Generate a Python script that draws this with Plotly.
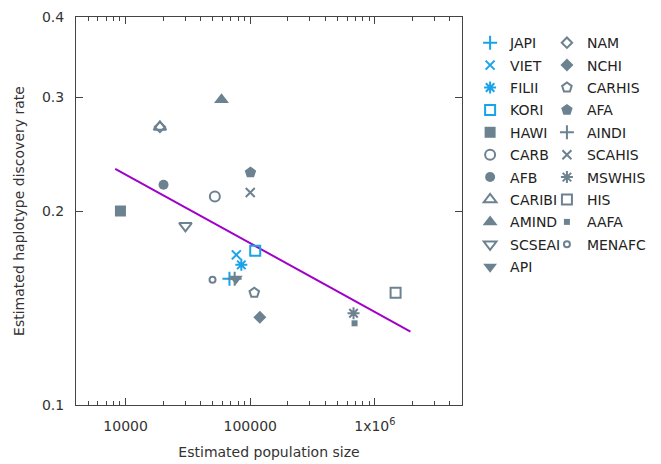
import plotly.graph_objects as go

BLUE = "#1aa3e8"
GRAY = "#6c8291"

names = ["JAPI", "VIET", "FILII", "KORI", "HAWI", "CARB", "AFB", "CARIBI", "AMIND", "SCSEAI", "API",
         "NAM", "NCHI", "CARHIS", "AFA", "AINDI", "SCAHIS", "MSWHIS", "HIS", "AAFA", "MENAFC"]
pop_size = [68100, 77300, 84800, 109600, 9090, 52000, 20150, 18850, 58800, 30200, 76600,
            18850, 119400, 107700, 100400, 75000, 100000, 674000, 1466000, 687000, 49800]
disc_rate = [0.157, 0.171, 0.165, 0.1735, 0.200, 0.2107, 0.2196, 0.270, 0.2975, 0.1897, 0.157,
             0.270, 0.1368, 0.1494, 0.2295, 0.157, 0.2137, 0.1388, 0.1494, 0.1339, 0.1564]
symbols = ["cross-thin", "x-thin", "asterisk", "square-open", "square", "circle-open", "circle",
           "triangle-up-open", "triangle-up", "triangle-down-open", "triangle-down",
           "diamond-open", "diamond", "pentagon-open", "pentagon", "cross-thin", "x-thin",
           "asterisk", "square-open", "square", "circle-open"]
colors = [BLUE] * 4 + [GRAY] * 17
sizes = [10, 9, 10, 10, 11, 10, 10, 11, 13, 11, 12,
         8, 10, 10, 12, 10, 9, 10, 10, 6, 6]

fit_x = [8250, 1930000]
fit_y = [0.2325, 0.130]

x_major = [10000, 100000, 1000000]
x_labels = ["10000", "100000", "1x10<sup>6</sup>"]
x_minor = [m * 10 ** e for e in range(3, 7) for m in range(2, 10)]
y_ticks = [0.1, 0.2, 0.3, 0.4]

fig = go.Figure()
fig.add_trace(go.Scatter(x=fit_x, y=fit_y, mode="lines", line=dict(color="#a000c8", width=2),
                         showlegend=False, hoverinfo="skip"))
for i, n in enumerate(names):
    thin = symbols[i] in ("cross-thin", "x-thin", "asterisk") or symbols[i].endswith("-open")
    fig.add_trace(go.Scatter(
        x=[pop_size[i]], y=[disc_rate[i]], mode="markers", name=n,
        legend="legend" if i < 11 else "legend2",
        legendgroup=n,
        marker=dict(symbol=symbols[i], size=sizes[i], color=colors[i],
                    line=dict(color=colors[i], width=2 if thin else 0)),
    ))

legend_common = dict(font=dict(family="DejaVu Sans", size=14, color="#222"),
                     bgcolor="rgba(0,0,0,0)", yanchor="top", xanchor="left",
                     tracegroupgap=1.2, itemwidth=30)
fig.update_layout(
    width=661, height=464,
    margin=dict(l=76, r=199, t=17, b=59, autoexpand=False),
    plot_bgcolor="white", paper_bgcolor="white",
    font=dict(family="DejaVu Sans", size=14, color="#333"),
    legend=dict(x=1.021, y=0.974, **legend_common),
    legend2=dict(x=1.22, y=0.974, **legend_common),
    xaxis=dict(type="log", range=[3.602, 6.699], tickvals=x_major, ticktext=x_labels,
               ticks="inside", ticklen=7, tickcolor="#444", showline=True, linecolor="#444",
               linewidth=1, mirror="ticks", showgrid=False, zeroline=False,
               ticklabelstandoff=8, tickfont=dict(size=14), automargin=False,
               minor=dict(tickvals=x_minor, ticks="inside", ticklen=4, tickcolor="#444"),
               title=dict(text="Estimated population size", standoff=14, font=dict(size=14))),
    yaxis=dict(type="log", range=[-1, -0.39794], tickvals=y_ticks,
               ticktext=["0.1", "0.2", "0.3", "0.4"],
               ticks="inside", ticklen=7, tickcolor="#444", showline=True, linecolor="#444",
               linewidth=1, mirror="ticks", showgrid=False, zeroline=False,
               ticklabelstandoff=8, tickfont=dict(size=14), automargin=False,
               title=dict(text="Estimated haplotype discovery rate", standoff=14, font=dict(size=14))),
)
fig.write_html("out.html", config={"displayModeBar": False},
               post_script="document.body.style.margin='0';")
